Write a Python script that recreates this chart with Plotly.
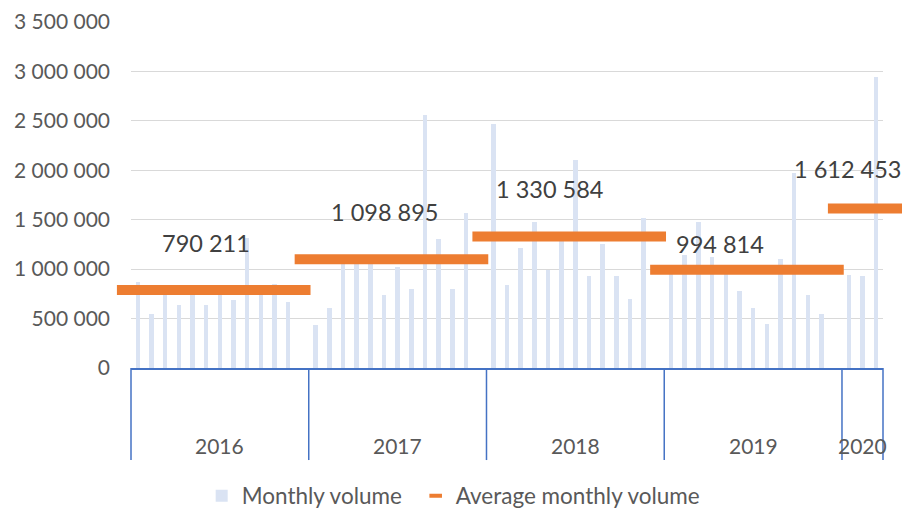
import plotly.graph_objects as go

# ---------------- data ----------------
years = ["2016", "2017", "2018", "2019", "2020"]
vol_2016 = [869000, 546000, 790000, 640000, 800000, 637000, 790000, 688000, 1312000, 800000, 850000, 668000]
vol_2017 = [435000, 607000, 1060000, 1080000, 1050000, 735000, 1018000, 799000, 2559000, 1308000, 799000, 1571000]
vol_2018 = [2468000, 840000, 1217000, 1477000, 991000, 1280000, 2104000, 934000, 1254000, 927000, 695000, 1520000]
vol_2019 = [960000, 1143000, 1480000, 1126000, 960000, 782000, 607000, 445000, 1102000, 1969000, 735000, 546000]
vol_2020 = [941000, 931000, 2947000]
avg_monthly = [790211, 1098895, 1330584, 994814, 1612453]
avg_labels = ["790 211", "1 098 895", "1 330 584", "994 814", "1 612 453"]
y_ticks = [0, 500000, 1000000, 1500000, 2000000, 2500000, 3000000, 3500000]

monthly = [vol_2016, vol_2017, vol_2018, vol_2019, vol_2020]

# ---------------- layout constants ----------------
BAR_COLOR = "#DAE3F3"
AVG_COLOR = "#ED7D31"
AXIS_COLOR = "#4472C4"
GRID_COLOR = "#D9D9D9"
TICK_COLOR = "#595959"
LABEL_COLOR = "#404040"
FONT = "Lato"
label_dx = [4.99, 5.04, 4.08, 3.57, -0.12]     # label x relative to group start (slots)
label_shift = [47, 47, 47, 26, 40]              # px above the average line
SEG_OFFSET, SEG_HALF = 5.55, 7.08               # average segment centre / half-width (slots)
W, H = 902, 508
M_L, M_R, M_T, M_B = 131, 19, 22, 140

# category slots: every full year is followed by one empty slot (Excel layout)
x_all, y_all, starts, ends = [], [], [], []
pos = 0
for g, vals in enumerate(monthly):
    starts.append(pos)
    for i, v in enumerate(vals):
        x_all.append(pos + i)
        y_all.append(v)
    pos += len(vals) + (1 if g < len(monthly) - 1 else 0)
    ends.append(pos)
n_slots = pos


def to_paper(xs):
    return (xs + 0.5) / n_slots


fig = go.Figure()
fig.add_trace(go.Bar(
    x=x_all, y=y_all, width=0.33, marker=dict(color=BAR_COLOR, line=dict(width=0)),
    name="Monthly volume", hoverinfo="y", legendwidth=169))
fig.add_trace(go.Scatter(
    x=[None], y=[None], mode="markers", name="Average monthly volume",
    marker=dict(symbol="line-ew", size=9, line=dict(color=AVG_COLOR, width=4))))

shapes = []
annotations = []
for g, yr in enumerate(years):
    # average segment
    c = starts[g] + SEG_OFFSET
    shapes.append(dict(type="line", xref="paper", yref="y",
                       x0=to_paper(c - SEG_HALF), x1=to_paper(c + SEG_HALF),
                       y0=avg_monthly[g], y1=avg_monthly[g],
                       line=dict(color=AVG_COLOR, width=10), layer="above"))
    annotations.append(dict(xref="x", yref="y", x=starts[g] + label_dx[g], y=avg_monthly[g],
                            text=avg_labels[g], showarrow=False, yshift=label_shift[g],
                            xanchor="center", yanchor="middle",
                            font=dict(family=FONT, size=23.5, color=LABEL_COLOR)))
    # group divider (left edge of the group)
    shapes.append(dict(type="line", xref="paper", yref="paper",
                       x0=starts[g] / n_slots, x1=starts[g] / n_slots, y0=0, y1=-0.266,
                       line=dict(color=AXIS_COLOR, width=1.5)))
    # year label
    centre = (starts[g] + ends[g] - 1) / 2
    annotations.append(dict(xref="paper", yref="paper", x=to_paper(centre), y=-0.225,
                            text=yr, showarrow=False, xanchor="center", yanchor="middle",
                            font=dict(family=FONT, size=21, color=TICK_COLOR)))
shapes.append(dict(type="line", xref="paper", yref="paper",
                   x0=1, x1=1, y0=0, y1=-0.266,
                   line=dict(color=AXIS_COLOR, width=1.5)))

fig.update_layout(
    width=W, height=H,
    margin=dict(l=M_L, r=M_R, t=M_T, b=M_B, autoexpand=False),
    paper_bgcolor="white", plot_bgcolor="white",
    separators=". ",
    font=dict(family=FONT, size=21, color=TICK_COLOR),
    showlegend=True,
    legend=dict(orientation="h", x=0.094, xanchor="left", y=-0.37, yanchor="middle",
                font=dict(family=FONT, size=22.5, color=TICK_COLOR),
                bgcolor="rgba(0,0,0,0)"),
    shapes=shapes,
    annotations=annotations,
    bargap=0,
)
fig.update_xaxes(range=[-0.5, n_slots - 0.5], showticklabels=False, showgrid=False,
                 zeroline=False, showline=True, linecolor=AXIS_COLOR, linewidth=1.5,
                 ticks="", fixedrange=True)
fig.update_yaxes(range=[0, 3500000], tickvals=y_ticks, tickformat=",d",
                 showgrid=True, gridcolor=GRID_COLOR, gridwidth=1, zeroline=False,
                 showline=False, ticks="", ticklabelstandoff=20,
                 tickfont=dict(family=FONT, size=21, color=TICK_COLOR), fixedrange=True)

fig.write_html("out.html", config={"displayModeBar": False},
               post_script="document.body.style.margin='0px';"
                           "document.documentElement.style.overflow='hidden';"
                           "document.body.style.overflow='hidden';")
